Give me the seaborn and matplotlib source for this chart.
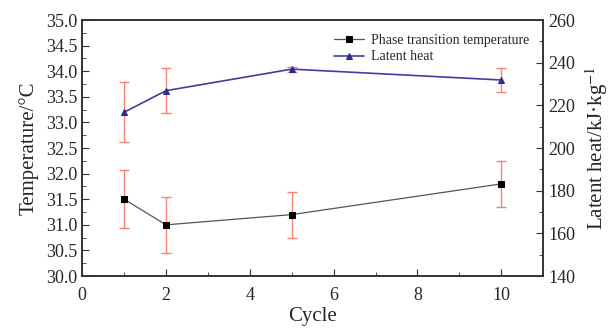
import matplotlib
matplotlib.use("Agg")
import matplotlib.pyplot as plt
import seaborn as sns
import pandas as pd
from matplotlib.ticker import MultipleLocator

# data
cycles = [1, 2, 5, 10]
temp = [31.5, 31.0, 31.2, 31.8]
temp_err = [0.57, 0.55, 0.45, 0.45]
heat = [216.8, 226.9, 237.0, 231.9]
heat_err = [14.0, 10.5, 1.2, 5.7]

sns.set_style("ticks")
plt.rcParams['font.family'] = ['Liberation Serif', 'DejaVu Serif']
plt.rcParams['mathtext.fontset'] = 'stix'

df = pd.DataFrame({'Cycle': cycles, 'Temp': temp, 'Heat': heat})

fig = plt.figure(figsize=(6.09, 3.29), dpi=100)
ax1 = fig.add_axes([0.135, 0.161, 0.757, 0.778])
ax2 = ax1.twinx()

err_color = '#f4847a'
ax1.errorbar(cycles, temp, yerr=temp_err, fmt='none', ecolor=err_color,
             elinewidth=1.0, capsize=3.5, capthick=1.0, zorder=1)
ax2.errorbar(cycles, heat, yerr=heat_err, fmt='none', ecolor=err_color,
             elinewidth=1.0, capsize=3.5, capthick=1.0, zorder=1)

sns.lineplot(data=df, x='Cycle', y='Temp', ax=ax1, color='#555555', lw=0.9,
             marker='s', markersize=4, markerfacecolor='black',
             markeredgecolor='black', label='Phase transition temperature',
             legend=False)
sns.lineplot(data=df, x='Cycle', y='Heat', ax=ax2, color='#3f3fa0', lw=1.2,
             marker='^', markersize=4.5, markerfacecolor='#2b2b90',
             markeredgecolor='#2b2b90', label='Latent heat', legend=False)

ax1.set_xlim(0, 11)
ax1.set_ylim(30, 35)
ax2.set_ylim(140, 260)

ax1.xaxis.set_major_locator(MultipleLocator(2))
ax1.xaxis.set_minor_locator(MultipleLocator(1))
ax1.yaxis.set_major_locator(MultipleLocator(0.5))
ax1.yaxis.set_minor_locator(MultipleLocator(0.25))
ax2.yaxis.set_major_locator(MultipleLocator(20))
ax2.yaxis.set_minor_locator(MultipleLocator(10))
ax1.yaxis.set_major_formatter(matplotlib.ticker.FormatStrFormatter('%.1f'))

ax1.tick_params(axis='both', which='both', direction='in', labelsize=13,
                top=False, right=False, color='#333333')
ax1.tick_params(which='major', length=5)
ax1.tick_params(which='minor', length=3)
ax2.tick_params(axis='y', which='both', direction='in', labelsize=13,
                color='#333333')
ax2.tick_params(which='major', length=5)
ax2.tick_params(which='minor', length=3)
ax1.tick_params(axis='x', pad=8)

for ax in (ax1, ax2):
    for s in ax.spines.values():
        s.set_color('#333333')
        s.set_linewidth(1.2)

ax1.set_xlabel('Cycle', fontsize=15, labelpad=2)
ax1.set_ylabel('Temperature/°C', fontsize=15, labelpad=5)
ax2.set_ylabel('Latent heat/kJ·kg$^{-1}$', fontsize=15, labelpad=6)

h1, l1 = ax1.get_legend_handles_labels()
h2, l2 = ax2.get_legend_handles_labels()
ax2.legend(h1 + h2, l1 + l2, loc='upper right', frameon=False, fontsize=10,
           handlelength=2.2, borderaxespad=0.6, labelspacing=0.25,
           handletextpad=0.5)

fig.savefig('out.png', dpi=100)
